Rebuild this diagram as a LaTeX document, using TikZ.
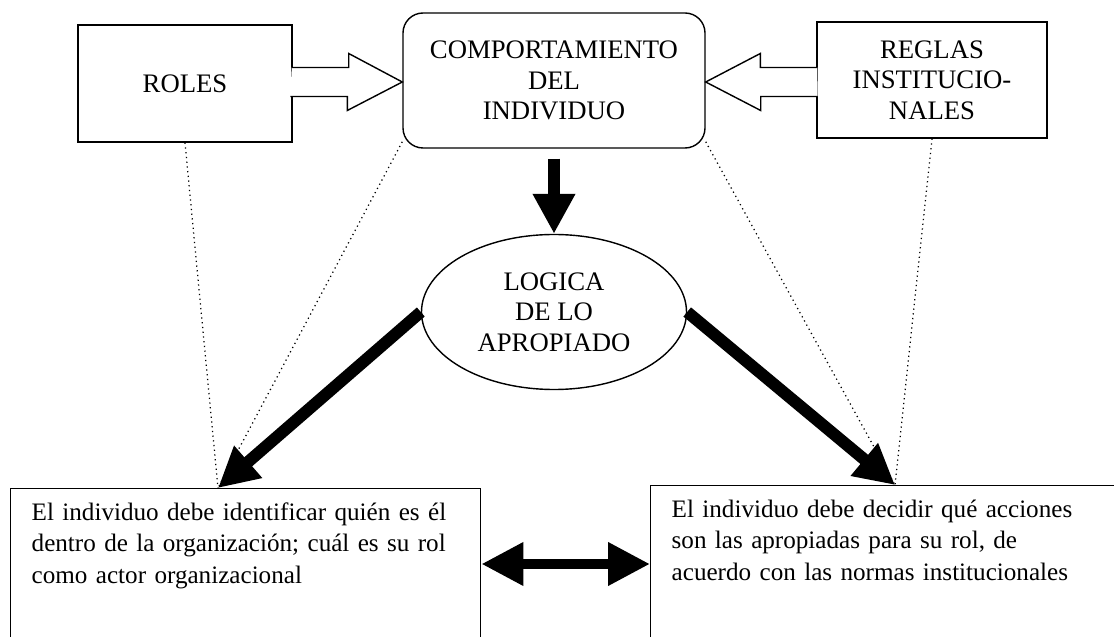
\documentclass[tikz,border=0pt]{standalone}
\usepackage{fontspec}
\setmainfont{Liberation Serif}
\usepackage{tikz}
\usetikzlibrary{shapes.geometric,arrows.meta,calc}

\begin{document}
\begin{tikzpicture}[
        every node/.style={font=\fontsize{15.2}{17.4}\selectfont},
        caja/.style={draw, line width=0.8pt, align=center, inner sep=0pt},
        texto/.style={draw, line width=0.8pt, anchor=north west, align=left,
            font=\fontsize{14.3}{17.8}\selectfont,
            inner xsep=0.42cm, inner ysep=0.2cm, text height=0.44cm, text depth=2.8cm},
        hueca/.style={draw, line width=0.8pt, fill=white},
        gruesa/.style={line width=6.8pt, -{Triangle[length=0.8cm,width=0.8cm]}},
        punteada/.style={dotted, line width=0.7pt}
    ]
            \useasboundingbox (0, 0) rectangle (22.28, -12.74);
            \clip (0, 0) rectangle (22.28, -12.74);

            \node[caja, minimum width=4.28cm, minimum height=2.34cm] (r1) at (3.70, -1.67) {ROLES};
            \node[caja, rounded corners=0.4cm, minimum width=6.04cm, minimum height=2.70cm] (c1) at (11.08, -1.61)
                {COMPORTAMIENTO\\DEL\\INDIVIDUO};
            \node[caja, minimum width=4.60cm, minimum height=2.32cm] (g1) at (18.64, -1.60)
                {REGLAS\\INSTITUCIO-\\NALES};
            \node[caja, ellipse, minimum width=5.30cm, minimum height=3.10cm] (l1) at (11.08, -6.24)
                {LOGICA\\DE LO\\APROPIADO};

            \node[texto, text width=8.56cm] (i1) at (0.20, -9.76)
                {El individuo debe identificar quién es él\\dentro de la organización; cuál es su rol\\como actor organizacional};
            \node[texto, text width=9.0cm] (d1) at (13.00, -9.70)
                {El individuo debe decidir qué acciones\\son las apropiadas para su rol, de\\acuerdo con las normas institucionales};

            \coordinate (a1) at (r1.east |- 0, -1.64);
            \coordinate (a2) at (g1.west |- 0, -1.64);
            \coordinate (t1) at ([xshift=4.16cm]i1.north west);
            \coordinate (t2) at ([xshift=4.90cm]d1.north west);

            % flechas huecas hacia el comportamiento
            \draw[hueca] ([shift={(-0.02, 0.29)}]a1) -- ++(1.14, 0) -- ++(0, 0.28) -- (c1.west |- a1)
                -- ++(-1.10, -0.57) -- ++(0, 0.28) -- ++(-1.14, 0);
            \draw[hueca] ([shift={(0.02, 0.29)}]a2) -- ++(-1.14, 0) -- ++(0, 0.28) -- (c1.east |- a2)
                -- ++(1.10, -0.57) -- ++(0, 0.28) -- ++(1.14, 0);

            \draw[punteada] (r1.south) -- (t1);
            \draw[punteada] (c1.202) -- (t1);
            \draw[punteada] (c1.-22) -- (t2);
            \draw[punteada] (g1.south) -- (t2);

            \draw[gruesa] ([yshift=-0.2cm]c1.south) -- (l1.north);
            \draw[gruesa] (l1.west) -- (t1);
            \draw[gruesa] (l1.east) -- (t2);
            \draw[line width=5.7pt, {Triangle[length=0.84cm,width=0.82cm]}-{Triangle[length=0.84cm,width=0.82cm]}]
                (i1.east |- 0, -11.28) -- (d1.west |- 0, -11.28);

        \end{tikzpicture}
\end{document}
